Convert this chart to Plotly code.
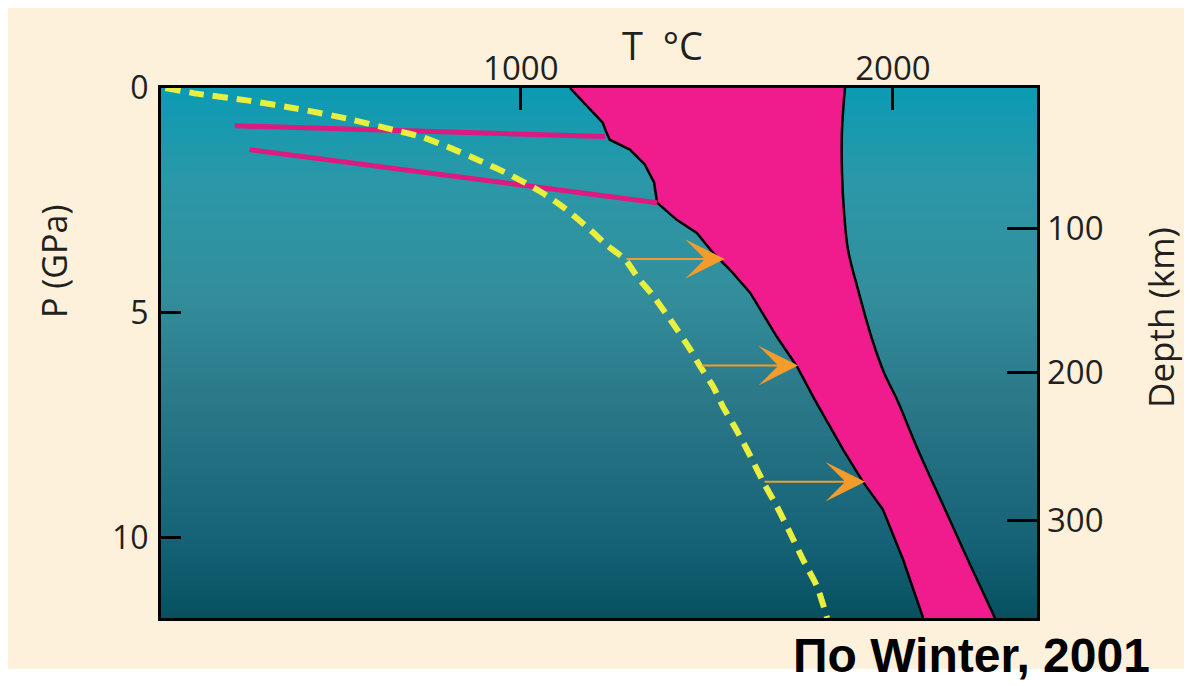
import plotly.graph_objects as go

# ---------------- data ----------------
# Solidus (left boundary of the melt field), T in °C, P in GPa
solidus_T = [1132, 1220, 1228, 1239, 1293, 1333, 1358, 1366, 1419, 1473, 1516,
             1562, 1616, 1688, 1742, 1790, 1866, 1919, 1973, 2027, 2081]
solidus_P = [0.00, 0.77, 0.95, 1.15, 1.37, 1.70, 2.10, 2.55, 2.93, 3.22, 3.66,
             4.04, 4.55, 5.53, 6.19, 6.93, 8.04, 8.75, 9.37, 10.48, 11.78]

# Liquidus (right boundary of the melt field)
liquidus_T = [1871, 1863, 1863, 1868, 1879, 1906, 1944, 1976, 2011, 2067, 2140, 2207, 2274]
liquidus_P = [0.00, 0.93, 1.88, 2.70, 3.59, 4.48, 5.59, 6.33, 6.93, 8.04, 9.37, 10.59, 11.78]

# Geotherm (yellow dashed)
geotherm_T = [45, 133, 268, 399, 533, 657, 730, 810, 891, 971, 1052, 1119, 1186,
              1232, 1280, 1315, 1353, 1388, 1420, 1455, 1482, 1517, 1543, 1576,
              1608, 1651, 1688, 1723, 1758, 1796, 1823]
geotherm_P = [0.00, 0.13, 0.28, 0.46, 0.68, 0.93, 1.08, 1.33, 1.62, 1.93, 2.30, 2.68, 3.15,
              3.50, 3.81, 4.22, 4.59, 4.99, 5.37, 5.81, 6.19, 6.64, 7.08, 7.55,
              8.04, 8.75, 9.30, 9.88, 10.48, 11.08, 11.78]

# Magenta lines
upper_line_T = [231, 1226]
upper_line_P = [0.84, 1.08]
lower_line_T = [271, 1366]
lower_line_P = [1.37, 2.55]

# Orange arrows (geotherm -> solidus)
arrow_start_T = [1280, 1482, 1651]
arrow_end_T = [1548, 1745, 1925]
arrow_P = [3.80, 6.17, 8.75]

# Axes
T_range = [33, 2387]
P_range = [11.78, 0]
T_ticks = [1000, 2000]
P_ticks = [0, 5, 10]
depth_tick_P = [3.13, 6.33, 9.61]
depth_labels = ["100", "200", "300"]

# ---------------- figure ----------------
BODY = 8                      # default page margin of the written html
W, H = 1192 - BODY, 686 - BODY
# plot area in page pixels: x 161..1037, y 88..618
L_PAGE, R_PAGE, T_PAGE, B_PAGE = 161, 1037, 88, 618
ML, MT = L_PAGE - BODY, T_PAGE - BODY
PW, PH = R_PAGE - L_PAGE, B_PAGE - T_PAGE
MR, MB = W - ML - PW, H - MT - PH


def px(x):
    return (x - L_PAGE) / PW


def py(y):
    return (B_PAGE - y) / PH


PINK = "#F01B8C"
LINE_MAGENTA = "#DC1A80"
YELLOW = "#E8EF3C"
ORANGE = "#F39B2B"
CREAM = "#FDF1DB"
TXT = "#231F20"
FONT = "Open Sans"

fig = go.Figure()

# background gradient
bg_colorscale = [
    [0.00, "#0B9BB3"],
    [0.17, "#2A98A8"],
    [0.38, "#338E9C"],
    [0.60, "#2A7788"],
    [0.85, "#166378"],
    [1.00, "#06505F"],
]
fig.add_trace(go.Heatmap(
    x=T_range, y=[0, 11.78], z=[[0, 0], [1, 1]],
    colorscale=bg_colorscale, zmin=0, zmax=1, zsmooth="best",
    showscale=False, hoverinfo="skip",
))

# melt field
fig.add_trace(go.Scatter(
    x=solidus_T + liquidus_T[::-1], y=solidus_P + liquidus_P[::-1],
    fill="toself", fillcolor=PINK, mode="lines", line=dict(width=0),
    hoverinfo="skip", showlegend=False,
))
fig.add_trace(go.Scatter(x=solidus_T, y=solidus_P, mode="lines",
                         line=dict(color="black", width=2.5), showlegend=False))
fig.add_trace(go.Scatter(x=liquidus_T, y=liquidus_P, mode="lines",
                         line=dict(color="black", width=2.5, shape="spline"), showlegend=False))

# magenta lines
fig.add_trace(go.Scatter(x=upper_line_T, y=upper_line_P, mode="lines",
                         line=dict(color=LINE_MAGENTA, width=5), showlegend=False))
fig.add_trace(go.Scatter(x=lower_line_T, y=lower_line_P, mode="lines",
                         line=dict(color=LINE_MAGENTA, width=5), showlegend=False))

# geotherm
fig.add_trace(go.Scatter(x=geotherm_T, y=geotherm_P, mode="lines",
                         line=dict(color=YELLOW, width=6, dash="15px,9px",
                                   shape="spline", smoothing=0.6),
                         showlegend=False))

# invisible trace to activate depth axis
fig.add_trace(go.Scatter(x=[T_range[0]], y=[0], yaxis="y2", mode="markers",
                         marker=dict(opacity=0), hoverinfo="skip", showlegend=False))

# arrows
for t0, t1, p in zip(arrow_start_T, arrow_end_T, arrow_P):
    fig.add_annotation(x=t1, y=p, ax=t0, ay=p, xref="x", yref="y", axref="x", ayref="y",
                       text="", showarrow=True, arrowhead=3, arrowsize=3.3, arrowwidth=2,
                       arrowcolor=ORANGE, standoff=0)

# texts
fig.add_annotation(x=px(662), y=py(45), xref="paper", yref="paper",
                   text="T\u00a0\u00a0°C",
                   showarrow=False, font=dict(family=FONT, size=38, color=TXT),
                   xanchor="center", yanchor="middle")
fig.add_annotation(x=px(54), y=py(262), xref="paper", yref="paper", text="P (GPa)",
                   showarrow=False, textangle=-90, font=dict(family=FONT, size=34, color=TXT),
                   xanchor="center", yanchor="middle")
fig.add_annotation(x=px(1160), y=py(318), xref="paper", yref="paper", text="Depth (km)",
                   showarrow=False, textangle=-90, font=dict(family=FONT, size=35, color=TXT),
                   xanchor="center", yanchor="middle")
fig.add_annotation(x=px(971), y=py(655), xref="paper", yref="paper",
                   text="<b>По Winter, 2001</b>", showarrow=False,
                   font=dict(family="Liberation Sans, Arial", size=48, color="black"),
                   xanchor="center", yanchor="middle")

# cream panel
fig.add_shape(type="rect", xref="paper", yref="paper", x0=px(6), x1=px(1192),
              y0=py(669), y1=py(7), fillcolor=CREAM, line=dict(width=0), layer="below")

fig.update_layout(
    width=W, height=H,
    margin=dict(l=ML, r=MR, t=MT, b=MB, pad=0),
    paper_bgcolor="white", plot_bgcolor="#2A8FA0",
    showlegend=False,
    xaxis=dict(range=T_range, side="top", tickvals=T_ticks, ticks="inside", ticklen=22,
               tickwidth=3, tickcolor="black", showline=True, linecolor="black",
               linewidth=3, mirror=True, showgrid=False, zeroline=False,
               tickfont=dict(family=FONT, size=33, color=TXT), ticklabelstandoff=-8),
    yaxis=dict(range=P_range, tickvals=P_ticks, ticks="inside", ticklen=20, tickwidth=3,
               tickcolor="black", showline=True, linecolor="black", linewidth=3,
               mirror=True, showgrid=False, zeroline=False,
               tickfont=dict(family=FONT, size=32, color=TXT), ticklabelstandoff=3),
    yaxis2=dict(range=P_range, overlaying="y", side="right", tickvals=depth_tick_P,
                ticktext=depth_labels, ticks="inside", ticklen=30, tickwidth=3,
                tickcolor="black", showline=False, showgrid=False, zeroline=False,
                tickfont=dict(family=FONT, size=33, color=TXT), ticklabelstandoff=9),
)

fig.write_html("out.html")
